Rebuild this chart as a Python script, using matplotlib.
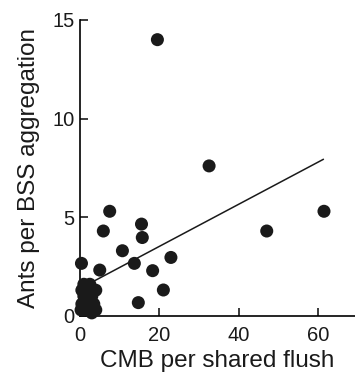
import matplotlib
matplotlib.use("Agg")
import matplotlib.pyplot as plt

cmb = [19.5, 32.5, 7.5, 61.4, 47.0, 5.9, 15.5, 15.7, 10.7, 22.9, 13.7, 0.4, 5.0, 18.3, 21.0, 14.7,
       1.0, 2.5, 0.5, 2.0, 4.0, 1.0, 3.0, 0.5, 2.0, 3.5, 1.0, 2.5, 4.0, 0.3, 3.0]
ants = [14.0, 7.6, 5.3, 5.3, 4.3, 4.3, 4.65, 3.97, 3.3, 2.96, 2.66, 2.66, 2.32, 2.29, 1.31, 0.67,
        1.6, 1.6, 1.3, 1.3, 1.3, 1.0, 1.0, 0.6, 0.6, 0.6, 0.3, 0.3, 0.3, 0.3, 0.15]
fit_x = [2.5, 61.2]
fit_y = [1.65, 7.93]

xticks = [0, 20, 40, 60]
yticks = [0, 5, 10, 15]

plt.rcParams['font.family'] = ['Liberation Sans', 'DejaVu Sans']
fig = plt.figure(figsize=(3.55, 3.76), dpi=100)
ax = fig.add_axes([0.225, 0.16, 0.775, 0.787])
ax.scatter(cmb, ants, s=88, color='#1a1a1a', edgecolors='none', zorder=3, clip_on=False)
ax.plot(fit_x, fit_y, color='#1a1a1a', lw=1.1, zorder=2)
ax.set_xlim(0, 69.2)
ax.set_ylim(0, 15)
ax.set_xticks(xticks)
ax.set_yticks(yticks)
for s in ['top', 'right']:
    ax.spines[s].set_visible(False)
for s in ['left', 'bottom']:
    ax.spines[s].set_linewidth(1.2)
ax.tick_params(direction='in', length=6, width=1.2, labelsize=14.5, pad=4, colors='#1a1a1a')
ax.tick_params(axis='x', pad=7)
ax.set_xlabel('CMB per shared flush', fontsize=17.5, labelpad=4, color='#1a1a1a')
ax.set_ylabel('Ants per BSS aggregation', fontsize=17.5, labelpad=9, color='#1a1a1a')
fig.savefig('out.png', dpi=100)
